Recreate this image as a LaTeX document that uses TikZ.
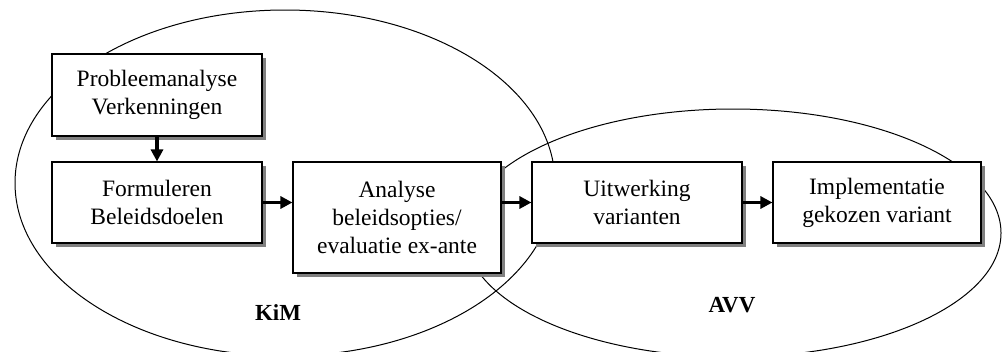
\documentclass[tikz,border=0pt]{standalone}
\usepackage{fontspec}
\setmainfont{Liberation Serif}
\usepackage{xcolor}
\usetikzlibrary{arrows.meta,shadows}
\definecolor{shade}{HTML}{808080}
\tikzset{
  stap/.style={draw=black, fill=white, line width=1.1pt, align=center, inner sep=0pt,
    font=\fontsize{23.5}{28}\selectfont,
    drop shadow={shadow xshift=4pt, shadow yshift=-4pt, fill=shade, opacity=1}},
  pijl/.style={draw=black, line width=3.2pt, -{Triangle[length=12pt,width=12pt]}},
  rand/.style={draw=black, line width=1pt},
  lab/.style={font=\fontsize{23}{27}\selectfont\bfseries}
}
\begin{document}
\begin{tikzpicture}[x=1pt,y=-1pt]
  \useasboundingbox (0,0) rectangle (1003,351);
  % de twee domeinen
  \draw[rand] (285,183) ellipse [x radius=270, y radius=173];
  \draw[rand] (733,233) ellipse [x radius=268, y radius=124];
  \node[lab] (kim) at (278,313) {KiM};
  \node[lab] (avv) at (732,305) {AVV};
  % stappen
  \node[stap, minimum width=210pt, minimum height=82pt] (probleem) at (157,95)
    {Probleemanalyse\\Verkenningen};
  \node[stap, minimum width=210pt, minimum height=81pt] (formuleren) at (157,202.5)
    {Formuleren\\Beleidsdoelen};
  \node[stap, minimum width=208pt, minimum height=111pt] (analyse) at (397,217.5)
    {Analyse\\beleidsopties/\\evaluatie ex-ante};
  \node[stap, minimum width=210pt, minimum height=81pt] (uitwerking) at (637,202.5)
    {Uitwerking\\varianten};
  \node[stap, minimum width=208pt, minimum height=81pt] (implementatie) at (877,202.5)
    {Implementatie\\gekozen variant};
  % pijlen
  \draw[pijl] (probleem) -- (formuleren);
  \draw[pijl] (formuleren.east) -- (formuleren.east -| analyse.west);
  \draw[pijl] (analyse.east |- uitwerking.west) -- (uitwerking.west);
  \draw[pijl] (uitwerking) -- (implementatie);
\end{tikzpicture}
\end{document}
